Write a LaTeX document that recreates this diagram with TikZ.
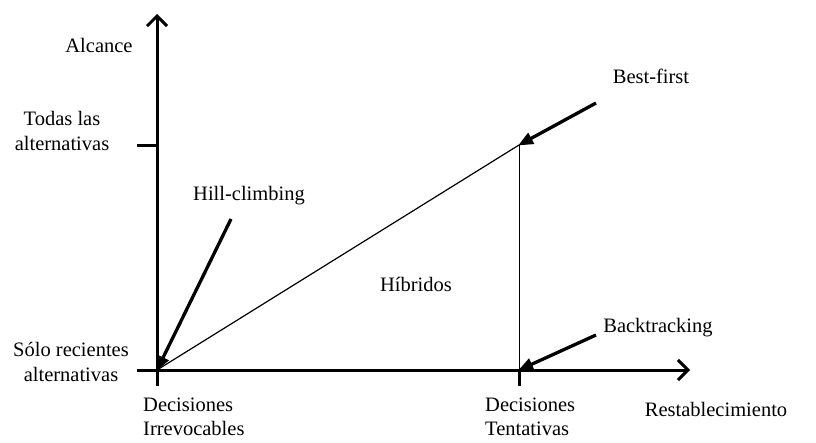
\documentclass[tikz,border=0pt]{standalone}
\usepackage{fontspec}
\setmainfont{Liberation Serif}
\usetikzlibrary{arrows.meta}
\begin{document}
\begin{tikzpicture}[x=1pt,y=-1pt,
  lbl/.style={inner sep=0pt,font=\fontsize{20.5}{24.5}\selectfont},
  axis/.style={line width=3pt,-{Straight Barb[length=10pt,width=20pt,line width=3pt]}},
  tickline/.style={line width=3pt},
  thinline/.style={line width=1.2pt},
  pointer/.style={line width=3.3pt,-{Triangle[length=15pt,width=12pt]},shorten >=-1pt}]
\useasboundingbox (0,0) rectangle (816,442);
% axes and reference points
\coordinate (O) at (157,370);
\coordinate (ytop) at (157,14);
\coordinate (yfoot) at (157,386);
\coordinate (xleft) at (137,370);
\coordinate (xend) at (690,370);
\coordinate (top) at (519,145);
\coordinate (tickL) at (137,145);
\coordinate (T) at (519,370);
\coordinate (Tfoot) at (519,386);
\draw[axis] (yfoot) -- (ytop);
\draw[axis] (xleft) -- (xend);
\draw[tickline] (tickL) -- (157,145);
\draw[tickline] (T) -- (Tfoot);
% region boundaries
\draw[thinline] (O) -- (top);
\draw[line width=1pt] (top) -- (T);
% labels
\node[lbl] (alc) at (99,45) {Alcance};
\node[lbl,align=center] (todas) at (62,131) {Todas las\\alternativas};
\node[lbl,align=center] (solo) at (71,362) {Sólo recientes\\alternativas};
\node[lbl,align=left,anchor=west] (irr) at (143,417) {Decisiones\\Irrevocables};
\node[lbl,align=left,anchor=west] (tent) at (485,417) {Decisiones\\Tentativas};
\node[lbl] (rest) at (716,409) {Restablecimiento};
\node[lbl] (hib) at (416,284) {Híbridos};
\node[lbl] (hill) at (249,196) {Hill-climbing};
\node[lbl] (best) at (651,76) {Best-first};
\node[lbl] (back) at (658,328) {Backtracking};
% pointers to the corners
\coordinate (hillS) at (231,219);
\coordinate (bestS) at (596,103);
\coordinate (backS) at (596,335);
\draw[pointer] (hillS) -- (O);
\draw[pointer] (bestS) -- (top);
\draw[pointer] (backS) -- (T);
\end{tikzpicture}
\end{document}
